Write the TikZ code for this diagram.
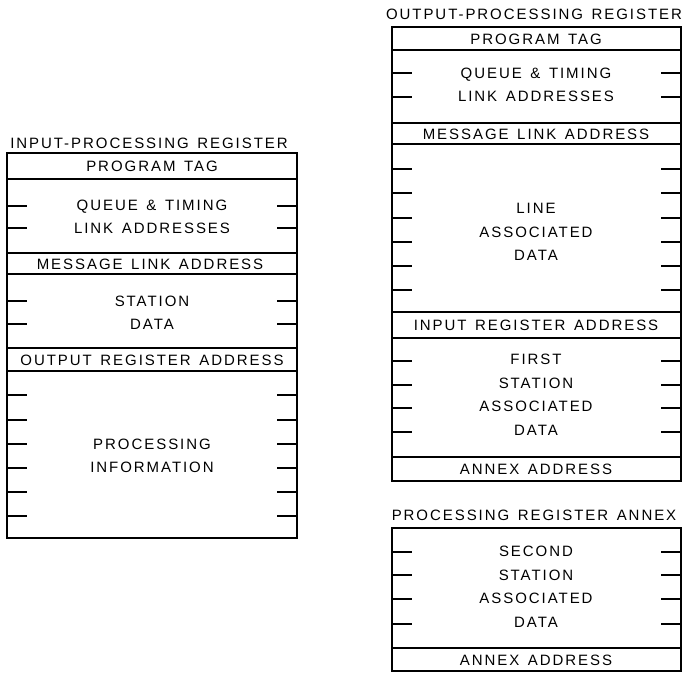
\documentclass[tikz,border=0pt]{standalone}
\usepackage{fontspec}
\newfontfamily\regfont[LetterSpace=13,WordSpace=1.4]{Liberation Sans}
\tikzset{
  regline/.style={line width=1.2pt, line cap=rect},
  tickline/.style={line width=1.1pt},
  lbl/.style={font=\regfont\fontsize{15}{23.5}\selectfont, align=center, inner sep=0pt, anchor=center},
}
\begin{document}
\begin{tikzpicture}[x=1pt,y=-1pt]
\useasboundingbox (0,0) rectangle (682,672);
% ---------- input-processing register ----------
\draw[regline] (7,153) rectangle (297,538);
\foreach \yy in {179,253,274,348,371} \draw[regline] (7,\yy) -- (297,\yy);
\foreach \yy in {206,228,301,324,395,420,444,468,492,516} {
  \draw[tickline] (7,\yy) -- (27,\yy);
  \draw[tickline] (277,\yy) -- (297,\yy);
}
\node[lbl] (ititle) at (149,143) {INPUT-PROCESSING REGISTER};
\node[lbl] (itag) at (152,166) {PROGRAM TAG};
\node[lbl] (iqueue) at (152,217) {QUEUE \& TIMING\\LINK ADDRESSES};
\node[lbl] (imsg) at (150,264) {MESSAGE LINK ADDRESS};
\node[lbl] (istat) at (152,313) {STATION\\DATA};
\node[lbl] (iout) at (152,360) {OUTPUT REGISTER ADDRESS};
\node[lbl] (iproc) at (152,456) {PROCESSING\\INFORMATION};
% ---------- output-processing register ----------
\draw[regline] (392,27) rectangle (681,481);
\foreach \yy in {50,123,144,312,338,457} \draw[regline] (392,\yy) -- (681,\yy);
\foreach \yy in {73,97,169,193,218,242,266,290,361,385,408,432} {
  \draw[tickline] (392,\yy) -- (412,\yy);
  \draw[tickline] (661,\yy) -- (681,\yy);
}
\node[lbl] (otitle) at (534,14) {OUTPUT-PROCESSING REGISTER};
\node[lbl] (otag) at (536,39) {PROGRAM TAG};
\node[lbl] (oqueue) at (536,85) {QUEUE \& TIMING\\LINK ADDRESSES};
\node[lbl] (omsg) at (536,134) {MESSAGE LINK ADDRESS};
\node[lbl] (oline) at (536,232) {LINE\\ASSOCIATED\\DATA};
\node[lbl] (oin) at (536,325) {INPUT REGISTER ADDRESS};
\node[lbl] (ofirst) at (536,395) {FIRST\\STATION\\ASSOCIATED\\DATA};
\node[lbl] (oannex) at (536,469) {ANNEX ADDRESS};
% ---------- processing register annex ----------
\draw[regline] (392,528) rectangle (681,671);
\draw[regline] (392,648) -- (681,648);
\foreach \yy in {552,575,599,624} {
  \draw[tickline] (392,\yy) -- (412,\yy);
  \draw[tickline] (661,\yy) -- (681,\yy);
}
\node[lbl] (atitle) at (534,515) {PROCESSING REGISTER ANNEX};
\node[lbl] (asecond) at (536,587) {SECOND\\STATION\\ASSOCIATED\\DATA};
\node[lbl] (aannex) at (536,660) {ANNEX ADDRESS};
\end{tikzpicture}
\end{document}
